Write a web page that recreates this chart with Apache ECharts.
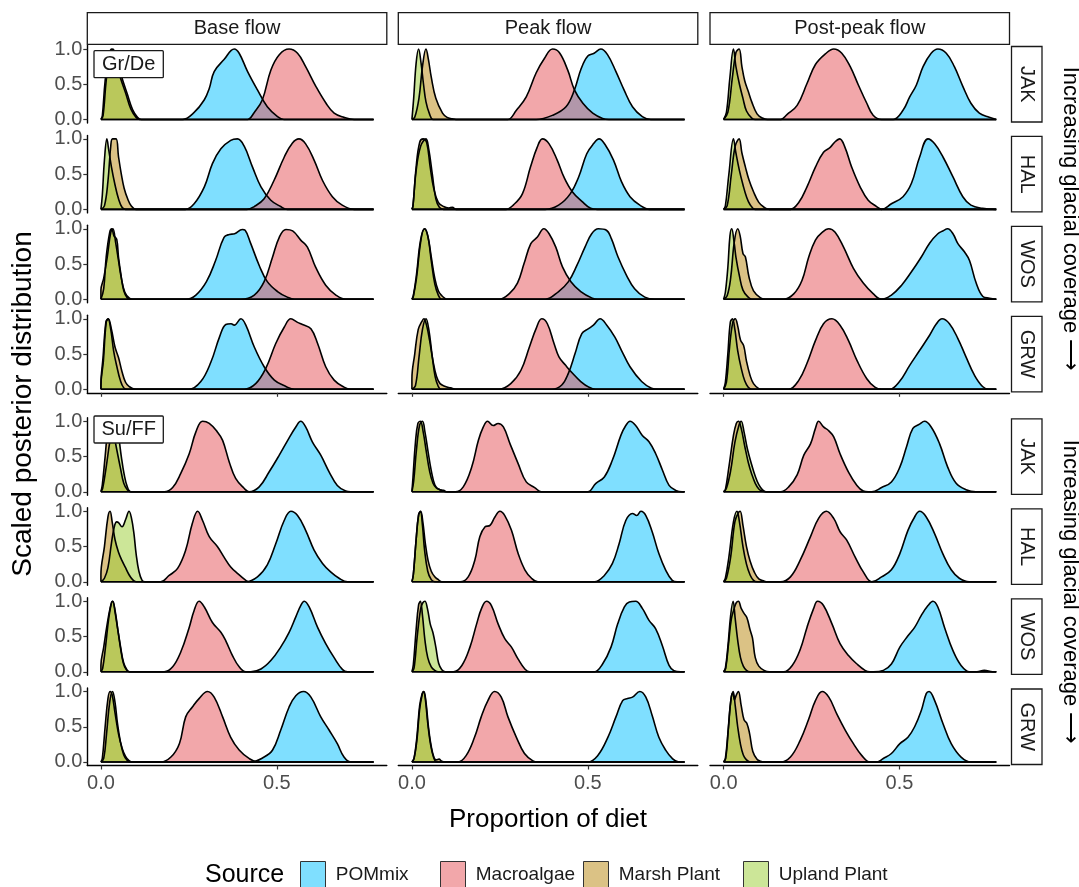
<!DOCTYPE html>
<html><head><meta charset="utf-8">
<script src="https://cdn.jsdelivr.net/npm/echarts@6/dist/echarts.min.js"></script>
<style>html,body{margin:0;padding:0;background:#fff}#c{width:1079px;height:887px}</style>
</head><body><div id="c"></div>
<script>
const flows = ['Base flow', 'Peak flow', 'Post-peak flow'];
const sites = ['JAK', 'HAL', 'WOS', 'GRW'];
const groups = ['Gr/De', 'Su/FF'];
const sources = ['POMmix', 'Macroalgae', 'Marsh Plant', 'Upland Plant'];
const xTickValues = [0, 0.5];
const yTickValues = [0, 0.5, 1.0];
const xDataEnd = 0.775;

// Each panel: [POMmix, Macroalgae, Marsh Plant, Upland Plant] as [proportion, scaled density] points
const gd_JAK_base = [
 [[0.232,0],[0.265,0.1],[0.294,0.28],[0.308,0.44],[0.322,0.68],[0.35,0.85],[0.379,1.0],[0.393,0.94],[0.417,0.68],[0.445,0.42],[0.473,0.18],[0.502,0.04],[0.52,0]],
 [[0.417,0],[0.436,0.1],[0.459,0.28],[0.483,0.7],[0.507,0.92],[0.535,1.0],[0.559,0.94],[0.582,0.75],[0.611,0.47],[0.64,0.23],[0.663,0.09],[0.691,0.03],[0.72,0]],
 [[0,0],[0.006,0.05],[0.015,0.55],[0.025,0.9],[0.034,1.0],[0.046,0.85],[0.058,0.62],[0.075,0.36],[0.09,0.14],[0.104,0.03],[0.115,0]],
 [[0,0],[0.004,0.05],[0.012,0.55],[0.022,0.9],[0.03,1.0],[0.042,0.85],[0.055,0.6],[0.07,0.38],[0.085,0.15],[0.1,0.03],[0.11,0]]
];
const gd_JAK_peak = [
 [[0.353,0],[0.4,0.06],[0.438,0.18],[0.462,0.42],[0.481,0.72],[0.5,0.9],[0.518,0.94],[0.537,1.0],[0.556,0.92],[0.58,0.68],[0.603,0.42],[0.627,0.18],[0.655,0.04],[0.679,0]],
 [[0.273,0],[0.297,0.13],[0.325,0.32],[0.353,0.66],[0.377,0.87],[0.4,1.0],[0.419,0.95],[0.443,0.7],[0.462,0.42],[0.486,0.23],[0.514,0.09],[0.542,0.015],[0.56,0]],
 [[0,0],[0.008,0.03],[0.02,0.3],[0.03,0.75],[0.04,1.0],[0.047,0.85],[0.055,0.6],[0.068,0.3],[0.087,0.09],[0.1,0.03],[0.115,0.01],[0.125,0]],
 [[0,0],[0.005,0.3],[0.012,0.8],[0.019,1.0],[0.026,0.8],[0.033,0.5],[0.04,0.25],[0.05,0.08],[0.06,0]]
];
const gd_JAK_post = [
 [[0.482,0],[0.51,0.13],[0.529,0.32],[0.548,0.49],[0.567,0.75],[0.59,0.94],[0.609,1.0],[0.633,0.94],[0.656,0.75],[0.68,0.47],[0.703,0.23],[0.727,0.09],[0.755,0.03],[0.775,0]],
 [[0.162,0],[0.18,0.07],[0.209,0.2],[0.237,0.51],[0.261,0.78],[0.289,0.93],[0.313,1.0],[0.336,0.94],[0.36,0.75],[0.383,0.49],[0.407,0.23],[0.425,0.06],[0.449,0]],
 [[0,0],[0.012,0.1],[0.025,0.6],[0.035,0.95],[0.044,1.0],[0.052,0.75],[0.06,0.55],[0.07,0.4],[0.08,0.25],[0.095,0.08],[0.11,0.02],[0.125,0]],
 [[0,0],[0.008,0.1],[0.018,0.6],[0.028,1.0],[0.035,0.75],[0.045,0.5],[0.055,0.3],[0.065,0.12],[0.08,0.02],[0.09,0]]
];
const gd_HAL_base = [
 [[0.24,0],[0.265,0.08],[0.294,0.32],[0.317,0.65],[0.341,0.86],[0.369,0.98],[0.388,1.0],[0.407,0.9],[0.431,0.6],[0.455,0.32],[0.483,0.13],[0.511,0.04],[0.53,0]],
 [[0.415,0],[0.436,0.04],[0.464,0.15],[0.492,0.41],[0.521,0.74],[0.544,0.94],[0.563,1.0],[0.582,0.93],[0.606,0.7],[0.63,0.41],[0.658,0.18],[0.686,0.06],[0.72,0]],
 [[0,0],[0.01,0.05],[0.02,0.4],[0.028,0.9],[0.033,1.0],[0.043,1.0],[0.05,0.75],[0.058,0.5],[0.066,0.3],[0.076,0.15],[0.086,0.05],[0.1,0]],
 [[0,0],[0.004,0.2],[0.01,0.7],[0.017,1.0],[0.022,0.85],[0.03,0.6],[0.04,0.35],[0.05,0.15],[0.06,0.03],[0.07,0]]
];
const gd_HAL_peak = [
 [[0.379,0],[0.417,0.06],[0.45,0.22],[0.474,0.46],[0.497,0.79],[0.516,0.93],[0.532,1.0],[0.549,0.92],[0.573,0.7],[0.596,0.39],[0.62,0.18],[0.648,0.06],[0.676,0]],
 [[0.267,0],[0.29,0.07],[0.314,0.22],[0.337,0.6],[0.356,0.88],[0.371,1.0],[0.39,0.93],[0.413,0.7],[0.432,0.46],[0.456,0.25],[0.484,0.11],[0.508,0.015],[0.527,0]],
 [[0,0],[0.003,0.05],[0.012,0.6],[0.022,0.95],[0.032,1.0],[0.042,0.95],[0.052,0.6],[0.062,0.3],[0.075,0.1],[0.09,0.04],[0.105,0.02],[0.115,0.03],[0.125,0]],
 [[0,0],[0.003,0.05],[0.012,0.55],[0.025,0.9],[0.04,1.0],[0.048,0.85],[0.058,0.5],[0.068,0.15],[0.078,0.03],[0.09,0]]
];
const gd_HAL_post = [
 [[0.449,0],[0.477,0.08],[0.51,0.18],[0.534,0.37],[0.557,0.74],[0.581,1.0],[0.6,0.93],[0.624,0.74],[0.652,0.46],[0.68,0.18],[0.703,0.06],[0.736,0.015],[0.775,0]],
 [[0.19,0],[0.214,0.1],[0.237,0.32],[0.261,0.6],[0.284,0.81],[0.303,0.88],[0.317,0.96],[0.33,1.0],[0.345,0.88],[0.364,0.6],[0.388,0.32],[0.411,0.13],[0.435,0.04],[0.449,0]],
 [[0,0],[0.01,0.05],[0.022,0.5],[0.033,0.9],[0.044,1.0],[0.052,0.8],[0.062,0.6],[0.072,0.42],[0.085,0.25],[0.1,0.1],[0.115,0.03],[0.13,0]],
 [[0,0],[0.005,0.05],[0.015,0.5],[0.028,1.0],[0.035,0.8],[0.045,0.55],[0.055,0.35],[0.065,0.18],[0.075,0.07],[0.09,0]]
];
const gd_WOS_base = [
 [[0.242,0],[0.27,0.06],[0.3,0.25],[0.326,0.55],[0.35,0.88],[0.365,0.92],[0.38,0.93],[0.402,0.99],[0.41,0.98],[0.426,0.79],[0.45,0.48],[0.473,0.25],[0.502,0.11],[0.53,0.03],[0.55,0]],
 [[0.398,0],[0.436,0.06],[0.464,0.25],[0.488,0.6],[0.507,0.88],[0.526,0.99],[0.545,0.97],[0.568,0.84],[0.587,0.74],[0.61,0.46],[0.639,0.2],[0.668,0.06],[0.696,0]],
 [[0,0],[0,0.13],[0.008,0.3],[0.018,0.6],[0.028,0.95],[0.034,1.0],[0.042,0.8],[0.05,0.55],[0.058,0.3],[0.068,0.1],[0.08,0.02],[0.09,0]],
 [[0,0],[0.008,0.15],[0.015,0.6],[0.025,0.95],[0.031,1.0],[0.037,0.9],[0.045,0.85],[0.05,0.6],[0.057,0.35],[0.065,0.12],[0.075,0.02],[0.085,0]]
];
const gd_WOS_peak = [
 [[0.379,0],[0.417,0.11],[0.445,0.25],[0.469,0.48],[0.492,0.74],[0.511,0.93],[0.53,1.0],[0.553,0.98],[0.567,0.86],[0.586,0.6],[0.61,0.34],[0.633,0.15],[0.662,0.03],[0.69,0]],
 [[0.248,0],[0.277,0.08],[0.3,0.23],[0.319,0.51],[0.338,0.79],[0.356,0.88],[0.375,1.0],[0.39,0.93],[0.409,0.74],[0.428,0.46],[0.452,0.25],[0.48,0.11],[0.513,0.015],[0.527,0]],
 [[0,0],[0.004,0.04],[0.013,0.3],[0.025,0.82],[0.035,1.0],[0.045,0.9],[0.055,0.6],[0.065,0.3],[0.075,0.12],[0.085,0.05],[0.095,0.01],[0.1,0]],
 [[0,0],[0.004,0.05],[0.013,0.35],[0.025,0.85],[0.037,1.0],[0.046,0.88],[0.055,0.55],[0.065,0.22],[0.075,0.06],[0.085,0]]
];
const gd_WOS_post = [
 [[0.449,0],[0.477,0.06],[0.506,0.2],[0.534,0.39],[0.562,0.6],[0.586,0.8],[0.609,0.93],[0.623,0.97],[0.637,1.0],[0.652,0.93],[0.666,0.79],[0.685,0.67],[0.699,0.55],[0.718,0.23],[0.737,0.04],[0.756,0.015],[0.775,0]],
 [[0.171,0],[0.2,0.08],[0.223,0.27],[0.242,0.6],[0.261,0.84],[0.28,0.95],[0.299,1.0],[0.317,0.95],[0.341,0.74],[0.369,0.44],[0.397,0.23],[0.425,0.08],[0.449,0]],
 [[0,0],[0.01,0.05],[0.02,0.3],[0.03,0.8],[0.04,1.0],[0.047,0.9],[0.055,0.65],[0.062,0.6],[0.072,0.32],[0.085,0.12],[0.105,0.02],[0.12,0]],
 [[0,0],[0.005,0.1],[0.012,0.45],[0.018,0.9],[0.023,1.0],[0.03,0.8],[0.035,0.6],[0.045,0.33],[0.055,0.13],[0.07,0.03],[0.08,0]]
];
const gd_GRW_base = [
 [[0.25,0],[0.284,0.11],[0.313,0.39],[0.337,0.74],[0.355,0.92],[0.37,0.93],[0.379,0.91],[0.398,1.0],[0.412,0.91],[0.436,0.6],[0.464,0.32],[0.493,0.13],[0.526,0.04],[0.55,0]],
 [[0.407,0],[0.44,0.08],[0.469,0.3],[0.497,0.65],[0.521,0.88],[0.54,1.0],[0.559,0.95],[0.573,0.92],[0.597,0.86],[0.616,0.65],[0.639,0.32],[0.663,0.13],[0.691,0.03],[0.71,0]],
 [[0,0],[0,0.05],[0.007,0.4],[0.015,0.95],[0.021,1.0],[0.03,0.85],[0.04,0.6],[0.05,0.45],[0.06,0.25],[0.07,0.1],[0.08,0.04],[0.09,0.01],[0.1,0]],
 [[0,0],[0,0.06],[0.006,0.45],[0.014,0.95],[0.02,1.0],[0.028,0.85],[0.036,0.55],[0.045,0.33],[0.055,0.13],[0.065,0.02],[0.075,0]]
];
const gd_GRW_peak = [
 [[0.398,0],[0.426,0.06],[0.445,0.23],[0.464,0.51],[0.483,0.79],[0.502,0.86],[0.516,0.91],[0.535,1.0],[0.554,0.91],[0.577,0.74],[0.596,0.55],[0.62,0.32],[0.653,0.11],[0.681,0.015],[0.7,0]],
 [[0.248,0],[0.281,0.08],[0.31,0.27],[0.334,0.6],[0.353,0.86],[0.369,1.0],[0.385,0.93],[0.404,0.65],[0.418,0.46],[0.437,0.34],[0.456,0.23],[0.48,0.11],[0.503,0.03],[0.522,0]],
 [[0,0],[0,0.15],[0.008,0.5],[0.018,0.85],[0.028,0.96],[0.034,1.0],[0.042,0.9],[0.05,0.7],[0.06,0.4],[0.07,0.18],[0.08,0.08],[0.095,0.04],[0.11,0.02],[0.125,0]],
 [[0,0],[0.01,0.05],[0.02,0.45],[0.03,0.85],[0.04,1.0],[0.048,0.85],[0.057,0.5],[0.066,0.18],[0.075,0.04],[0.082,0]]
];
const gd_GRW_post = [
 [[0.472,0],[0.5,0.11],[0.529,0.34],[0.557,0.55],[0.586,0.77],[0.605,0.93],[0.621,1.0],[0.642,0.93],[0.666,0.72],[0.689,0.46],[0.713,0.2],[0.736,0.04],[0.755,0]],
 [[0.185,0],[0.214,0.13],[0.237,0.37],[0.261,0.69],[0.284,0.93],[0.308,1.0],[0.331,0.91],[0.355,0.69],[0.379,0.41],[0.407,0.15],[0.43,0.03],[0.449,0]],
 [[0,0],[0.008,0.1],[0.017,0.6],[0.026,0.95],[0.033,1.0],[0.04,0.9],[0.048,0.7],[0.057,0.62],[0.065,0.4],[0.075,0.2],[0.085,0.08],[0.1,0.01],[0.11,0]],
 [[0,0],[0.005,0.1],[0.012,0.5],[0.019,0.95],[0.025,1.0],[0.032,0.85],[0.04,0.55],[0.05,0.3],[0.06,0.12],[0.07,0.03],[0.08,0]]
];
const sf_JAK_base = [
 [[0.421,0],[0.45,0.07],[0.478,0.28],[0.507,0.52],[0.531,0.73],[0.554,0.92],[0.568,1.0],[0.582,0.92],[0.601,0.71],[0.625,0.52],[0.649,0.28],[0.672,0.09],[0.696,0.01],[0.71,0]],
 [[0.18,0],[0.204,0.06],[0.227,0.26],[0.251,0.54],[0.27,0.85],[0.289,1.0],[0.308,0.97],[0.331,0.85],[0.346,0.73],[0.365,0.42],[0.383,0.19],[0.407,0.05],[0.421,0]],
 [[0,0],[0.004,0.1],[0.012,0.5],[0.02,0.9],[0.027,1.0],[0.035,0.85],[0.045,0.6],[0.055,0.35],[0.065,0.12],[0.075,0.03],[0.085,0]],
 [[0,0],[0.005,0.05],[0.015,0.35],[0.025,0.7],[0.035,0.95],[0.042,1.0],[0.05,0.8],[0.058,0.5],[0.066,0.25],[0.075,0.07],[0.085,0]]
];
const sf_JAK_peak = [
 [[0.5,0],[0.523,0.12],[0.547,0.21],[0.57,0.45],[0.594,0.8],[0.608,0.94],[0.62,1.0],[0.636,0.94],[0.655,0.8],[0.674,0.71],[0.693,0.54],[0.712,0.31],[0.731,0.09],[0.75,0.02],[0.768,0]],
 [[0.123,0],[0.146,0.07],[0.17,0.35],[0.189,0.73],[0.203,0.92],[0.215,1.0],[0.231,0.94],[0.245,0.97],[0.26,0.92],[0.279,0.68],[0.302,0.4],[0.325,0.14],[0.349,0.06],[0.368,0]],
 [[0,0],[0.003,0.2],[0.01,0.7],[0.017,0.97],[0.024,1.0],[0.032,0.85],[0.04,0.6],[0.05,0.3],[0.06,0.12],[0.07,0.05],[0.08,0.03],[0.09,0.02],[0.1,0]],
 [[0,0],[0.005,0.15],[0.013,0.6],[0.022,0.95],[0.03,1.0],[0.037,0.85],[0.045,0.6],[0.055,0.3],[0.065,0.1],[0.075,0.04],[0.09,0.01],[0.1,0]]
];
const sf_JAK_post = [
 [[0.421,0],[0.449,0.06],[0.477,0.14],[0.501,0.35],[0.52,0.64],[0.538,0.9],[0.557,0.96],[0.571,1.0],[0.59,0.92],[0.614,0.68],[0.637,0.35],[0.661,0.12],[0.689,0.03],[0.717,0]],
 [[0.162,0],[0.185,0.07],[0.209,0.24],[0.228,0.52],[0.247,0.68],[0.261,0.9],[0.27,1.0],[0.284,0.92],[0.298,0.87],[0.313,0.78],[0.331,0.54],[0.355,0.28],[0.379,0.09],[0.397,0.01],[0.411,0]],
 [[0,0],[0.005,0.03],[0.015,0.35],[0.028,0.8],[0.036,0.97],[0.042,1.0],[0.05,0.9],[0.06,0.65],[0.07,0.42],[0.08,0.25],[0.09,0.12],[0.1,0.04],[0.11,0.01],[0.12,0]],
 [[0,0],[0.008,0.05],[0.02,0.3],[0.032,0.7],[0.044,0.95],[0.05,1.0],[0.058,0.85],[0.068,0.6],[0.08,0.38],[0.09,0.22],[0.1,0.1],[0.11,0.03],[0.12,0]]
];
const sf_HAL_base = [
 [[0.412,0],[0.445,0.07],[0.473,0.24],[0.497,0.54],[0.521,0.87],[0.54,1.0],[0.559,0.94],[0.582,0.73],[0.606,0.45],[0.63,0.26],[0.653,0.14],[0.677,0.05],[0.701,0]],
 [[0.17,0],[0.194,0.09],[0.218,0.19],[0.241,0.45],[0.26,0.83],[0.275,1.0],[0.289,0.87],[0.308,0.64],[0.331,0.5],[0.35,0.35],[0.369,0.21],[0.388,0.12],[0.412,0.02],[0.421,0]],
 [[0,0],[0,0.1],[0.01,0.5],[0.02,0.92],[0.026,1.0],[0.032,0.85],[0.04,0.6],[0.05,0.42],[0.06,0.3],[0.07,0.2],[0.08,0.1],[0.09,0.03],[0.1,0]],
 [[0,0],[0.01,0.05],[0.02,0.2],[0.03,0.55],[0.038,0.78],[0.045,0.85],[0.05,0.84],[0.06,0.78],[0.07,0.88],[0.08,1.0],[0.087,0.9],[0.094,0.68],[0.1,0.4],[0.108,0.15],[0.117,0.02],[0.125,0]]
];
const sf_HAL_peak = [
 [[0.519,0],[0.547,0.09],[0.57,0.26],[0.589,0.54],[0.608,0.87],[0.627,0.97],[0.639,0.94],[0.651,1.0],[0.665,0.94],[0.683,0.71],[0.702,0.4],[0.721,0.17],[0.74,0.02],[0.754,0]],
 [[0.137,0],[0.16,0.07],[0.179,0.31],[0.193,0.64],[0.208,0.78],[0.222,0.8],[0.236,0.92],[0.25,1.0],[0.264,0.94],[0.283,0.73],[0.302,0.4],[0.321,0.17],[0.34,0.05],[0.358,0]],
 [[0,0],[0.004,0.1],[0.012,0.6],[0.019,0.95],[0.025,1.0],[0.031,0.85],[0.038,0.55],[0.046,0.3],[0.055,0.15],[0.065,0.07],[0.075,0.03],[0.085,0]],
 [[0,0],[0.004,0.1],[0.012,0.6],[0.019,0.95],[0.024,1.0],[0.03,0.8],[0.036,0.45],[0.045,0.15],[0.055,0.03],[0.065,0]]
];
const sf_HAL_post = [
 [[0.421,0],[0.449,0.07],[0.477,0.17],[0.501,0.4],[0.524,0.73],[0.543,0.92],[0.557,1.0],[0.576,0.92],[0.6,0.68],[0.623,0.4],[0.647,0.17],[0.67,0.05],[0.698,0]],
 [[0.162,0],[0.19,0.07],[0.218,0.31],[0.247,0.64],[0.27,0.9],[0.292,1.0],[0.313,0.9],[0.331,0.71],[0.35,0.59],[0.374,0.35],[0.397,0.14],[0.421,0]],
 [[0,0],[0.008,0.05],[0.02,0.35],[0.032,0.85],[0.042,0.98],[0.047,1.0],[0.055,0.8],[0.065,0.5],[0.075,0.3],[0.088,0.13],[0.1,0.04],[0.115,0.01],[0.125,0]],
 [[0,0],[0.005,0.05],[0.015,0.35],[0.028,0.85],[0.038,1.0],[0.045,0.85],[0.055,0.5],[0.065,0.25],[0.075,0.1],[0.085,0.02],[0.095,0]]
];
const sf_WOS_base = [
 [[0.426,0],[0.455,0.04],[0.483,0.16],[0.511,0.35],[0.535,0.56],[0.554,0.78],[0.568,0.94],[0.578,1.0],[0.592,0.92],[0.616,0.63],[0.639,0.4],[0.663,0.2],[0.687,0.03],[0.701,0]],
 [[0.18,0],[0.204,0.07],[0.227,0.28],[0.251,0.63],[0.265,0.87],[0.279,1.0],[0.294,0.92],[0.317,0.7],[0.341,0.56],[0.355,0.44],[0.374,0.23],[0.393,0.07],[0.412,0]],
 [[0,0],[0,0.09],[0.008,0.35],[0.017,0.65],[0.026,0.9],[0.033,1.0],[0.04,0.88],[0.048,0.6],[0.056,0.33],[0.064,0.12],[0.072,0.03],[0.08,0]],
 [[0,0],[0.005,0.05],[0.013,0.35],[0.022,0.75],[0.03,0.98],[0.034,1.0],[0.04,0.85],[0.048,0.6],[0.056,0.35],[0.065,0.12],[0.075,0.02],[0.082,0]]
];
const sf_WOS_peak = [
 [[0.519,0],[0.542,0.11],[0.566,0.35],[0.585,0.68],[0.604,0.92],[0.618,0.99],[0.636,1.0],[0.655,0.9],[0.674,0.73],[0.693,0.61],[0.712,0.37],[0.731,0.09],[0.745,0.015],[0.764,0]],
 [[0.118,0],[0.142,0.09],[0.165,0.35],[0.184,0.68],[0.198,0.9],[0.212,1.0],[0.226,0.94],[0.245,0.68],[0.264,0.47],[0.283,0.35],[0.302,0.18],[0.321,0.04],[0.335,0]],
 [[0,0],[0.004,0.1],[0.012,0.6],[0.019,0.95],[0.024,1.0],[0.03,0.8],[0.037,0.45],[0.045,0.2],[0.055,0.07],[0.065,0.02],[0.075,0]],
 [[0,0],[0.006,0.05],[0.015,0.5],[0.025,0.9],[0.031,0.98],[0.037,1.0],[0.044,0.9],[0.052,0.68],[0.06,0.55],[0.068,0.35],[0.076,0.12],[0.085,0.03],[0.095,0]]
];
const sf_WOS_post = [
 [[0.426,0],[0.454,0.02],[0.477,0.11],[0.501,0.35],[0.524,0.51],[0.543,0.63],[0.562,0.8],[0.581,0.94],[0.595,1.0],[0.609,0.92],[0.628,0.63],[0.652,0.3],[0.675,0.09],[0.699,0],[0.72,0],[0.741,0.02],[0.765,0]],
 [[0.171,0],[0.195,0.09],[0.218,0.32],[0.237,0.63],[0.256,0.9],[0.267,1.0],[0.284,0.94],[0.308,0.68],[0.331,0.4],[0.355,0.23],[0.379,0.11],[0.402,0.02],[0.416,0]],
 [[0,0],[0.006,0.05],[0.014,0.4],[0.022,0.75],[0.03,0.9],[0.036,0.98],[0.042,1.0],[0.05,0.9],[0.058,0.83],[0.066,0.77],[0.075,0.6],[0.082,0.48],[0.09,0.2],[0.1,0.08],[0.115,0.02],[0.13,0]],
 [[0,0],[0.005,0.05],[0.012,0.35],[0.02,0.8],[0.027,1.0],[0.033,0.75],[0.04,0.45],[0.048,0.2],[0.056,0.08],[0.065,0.02],[0.075,0]]
];
const sf_GRW_base = [
 [[0.426,0],[0.464,0.07],[0.488,0.17],[0.511,0.45],[0.535,0.78],[0.554,0.94],[0.576,1.0],[0.597,0.92],[0.625,0.64],[0.649,0.45],[0.672,0.26],[0.691,0.07],[0.71,0]],
 [[0.17,0],[0.199,0.07],[0.223,0.26],[0.241,0.64],[0.26,0.78],[0.279,0.9],[0.303,1.0],[0.322,0.92],[0.346,0.64],[0.369,0.35],[0.393,0.17],[0.421,0.05],[0.445,0]],
 [[0,0],[0.004,0.05],[0.012,0.5],[0.02,0.9],[0.026,1.0],[0.032,0.95],[0.04,0.7],[0.05,0.4],[0.06,0.2],[0.07,0.08],[0.08,0.02],[0.09,0]],
 [[0,0],[0.008,0.05],[0.016,0.4],[0.025,0.85],[0.033,1.0],[0.04,0.85],[0.047,0.55],[0.055,0.3],[0.065,0.1],[0.075,0.02],[0.082,0]]
];
const sf_GRW_peak = [
 [[0.5,0],[0.528,0.09],[0.557,0.35],[0.58,0.64],[0.599,0.87],[0.613,0.9],[0.627,0.92],[0.648,1.0],[0.665,0.92],[0.683,0.66],[0.702,0.35],[0.721,0.17],[0.74,0.05],[0.759,0]],
 [[0.131,0],[0.154,0.09],[0.178,0.35],[0.197,0.64],[0.216,0.87],[0.235,1.0],[0.254,0.92],[0.273,0.64],[0.297,0.35],[0.32,0.12],[0.344,0.015],[0.358,0]],
 [[0,0],[0.006,0.05],[0.014,0.35],[0.022,0.8],[0.029,0.97],[0.034,1.0],[0.04,0.85],[0.047,0.5],[0.055,0.22],[0.063,0.06],[0.07,0.03],[0.077,0.04],[0.085,0.01],[0.095,0]],
 [[0,0],[0.006,0.05],[0.014,0.3],[0.022,0.75],[0.029,0.95],[0.033,1.0],[0.038,0.9],[0.045,0.55],[0.053,0.25],[0.062,0.06],[0.07,0]]
];
const sf_GRW_post = [
 [[0.435,0],[0.454,0.05],[0.477,0.12],[0.501,0.26],[0.524,0.35],[0.543,0.5],[0.562,0.73],[0.576,0.97],[0.584,1.0],[0.6,0.87],[0.624,0.54],[0.647,0.26],[0.675,0.07],[0.703,0]],
 [[0.162,0],[0.19,0.07],[0.218,0.31],[0.242,0.61],[0.261,0.87],[0.28,1.0],[0.299,0.92],[0.322,0.68],[0.346,0.45],[0.369,0.26],[0.393,0.09],[0.416,0]],
 [[0,0],[0.006,0.05],[0.014,0.5],[0.021,0.9],[0.026,0.98],[0.031,0.88],[0.036,0.95],[0.042,1.0],[0.05,0.8],[0.058,0.6],[0.066,0.55],[0.074,0.4],[0.083,0.15],[0.095,0.04],[0.105,0.01],[0.115,0]],
 [[0,0],[0.005,0.05],[0.012,0.4],[0.02,0.85],[0.027,1.0],[0.033,0.8],[0.04,0.5],[0.048,0.25],[0.056,0.1],[0.065,0.03],[0.075,0]]
];

const panels = [
  [gd_JAK_base, gd_JAK_peak, gd_JAK_post],
  [gd_HAL_base, gd_HAL_peak, gd_HAL_post],
  [gd_WOS_base, gd_WOS_peak, gd_WOS_post],
  [gd_GRW_base, gd_GRW_peak, gd_GRW_post],
  [sf_JAK_base, sf_JAK_peak, sf_JAK_post],
  [sf_HAL_base, sf_HAL_peak, sf_HAL_post],
  [sf_WOS_base, sf_WOS_peak, sf_WOS_post],
  [sf_GRW_base, sf_GRW_peak, sf_GRW_post]
];

// ---------- layout & style ----------
const FONT = '"Liberation Sans", Arial, Helvetica, sans-serif';
const fills = ['rgba(0,191,255,0.5)', 'rgba(229,80,85,0.5)', 'rgba(184,134,11,0.5)', 'rgba(154,205,50,0.5)'];
const colLeft = [87.3, 398.3, 710];
const colW = 299.5;
const rowTop = [45.5, 135.4, 225.3, 315.3, 417.8, 507.8, 597.8, 688];
const rowH = 77.5;
const xMin = -0.0387, xMax = 0.8127;

function prep(pts) {
  const out = [];
  const f = pts[0], l = pts[pts.length - 1];
  if (f[0] > 0.02) { out.push([0, 0]); out.push([f[0] - 0.015, 0]); }
  else if (f[0] > 0) out.push([0, 0]);
  pts.forEach(p => out.push(p));
  if (l[0] < xDataEnd - 0.02) { out.push([l[0] + 0.015, 0]); out.push([xDataEnd, 0]); }
  else if (l[0] < xDataEnd) out.push([xDataEnd, 0]);
  return out;
}

const grid = [], xAxis = [], yAxis = [], series = [];
for (let r = 0; r < 8; r++) {
  for (let c = 0; c < 3; c++) {
    const idx = r * 3 + c;
    grid.push({ left: colLeft[c], top: rowTop[r], width: colW, height: rowH });
    const bottomRow = (r === 3 || r === 7);
    xAxis.push({
      gridIndex: idx, type: 'value', min: xMin, max: xMax,
      axisLine: { show: bottomRow, onZero: false, lineStyle: { color: '#000', width: 1.4 } },
      axisTick: { show: bottomRow, customValues: xTickValues, length: 4, lineStyle: { color: '#333', width: 1.2 } },
      axisLabel: { show: r === 7, customValues: xTickValues, formatter: v => v.toFixed(1), color: '#4d4d4d', fontSize: 20, fontFamily: FONT, margin: 8 },
      splitLine: { show: false }
    });
    yAxis.push({
      gridIndex: idx, type: 'value', min: -0.05, max: 1.05,
      axisLine: { show: c === 0, onZero: false, lineStyle: { color: '#000', width: 1.4 } },
      axisTick: { show: c === 0, customValues: yTickValues, length: 4, lineStyle: { color: '#333', width: 1.2 } },
      axisLabel: { show: c === 0, customValues: yTickValues, formatter: v => v.toFixed(1), color: '#4d4d4d', fontSize: 20, fontFamily: FONT, margin: 5 },
      splitLine: { show: false }
    });
    const p = panels[r][c];
    for (let i = 0; i < 4; i++) {
      series.push({
        type: 'line', name: sources[i], xAxisIndex: idx, yAxisIndex: idx,
        data: prep(p[i]), smooth: 0.4, symbol: 'none', silent: true,
        color: fills[i],
        lineStyle: { color: '#000', width: 1.6 },
        areaStyle: { color: fills[i], opacity: 1 },
        emphasis: { disabled: true }
      });
    }
  }
}

const graphic = [];
// top strips
for (let c = 0; c < 3; c++) {
  graphic.push({ type: 'rect', z: 100, shape: { x: colLeft[c], y: 12.7, width: colW, height: 31.6 }, style: { fill: '#fff', stroke: '#1a1a1a', lineWidth: 1.3 } });
  graphic.push({ type: 'text', z: 101, x: colLeft[c] + colW / 2, y: 28.5, style: { text: flows[c], align: 'center', verticalAlign: 'middle', font: '20px ' + FONT, fill: '#1a1a1a' } });
}
// right strips
for (let r = 0; r < 8; r++) {
  graphic.push({ type: 'rect', z: 100, shape: { x: 1011.5, y: rowTop[r] + 1, width: 30.5, height: rowH - 2 }, style: { fill: '#fff', stroke: '#1a1a1a', lineWidth: 1.3 } });
  graphic.push({ type: 'text', z: 101, x: 1026.8, y: rowTop[r] + rowH / 2, rotation: -Math.PI / 2, style: { text: sites[r % 4], align: 'center', verticalAlign: 'middle', font: '20px ' + FONT, fill: '#1a1a1a' } });
}
// group labels
[[50.7, 0], [416, 1]].forEach(([y, g]) => {
  graphic.push({ type: 'rect', z: 100, shape: { x: 94, y: y, width: 69.3, height: 27, r: 1 }, style: { fill: '#fff', stroke: '#1a1a1a', lineWidth: 1.3 } });
  graphic.push({ type: 'text', z: 101, x: 128.7, y: y + 13.8, style: { text: groups[g], align: 'center', verticalAlign: 'middle', font: '20px ' + FONT, fill: '#1a1a1a' } });
});
// axis titles
graphic.push({ type: 'text', z: 101, x: 23, y: 404, rotation: Math.PI / 2, style: { text: 'Scaled posterior distribution', align: 'center', verticalAlign: 'middle', font: '28px ' + FONT, fill: '#000' } });
graphic.push({ type: 'text', z: 101, x: 548, y: 820, style: { text: 'Proportion of diet', align: 'center', verticalAlign: 'middle', font: '26px ' + FONT, fill: '#000' } });
// right-side annotations
[219, 592].forEach(y => {
  graphic.push({ type: 'text', z: 101, x: 1070, y: y, rotation: -Math.PI / 2, style: { text: 'Increasing glacial coverage \u27F6', align: 'center', verticalAlign: 'middle', font: '22px ' + FONT, fill: '#000' } });
});
// legend title
graphic.push({ type: 'text', z: 101, x: 205, y: 875, style: { text: 'Source', align: 'left', verticalAlign: 'middle', font: '25px ' + FONT, fill: '#000' } });

const legendLeft = [300, 440, 583, 743];
const legend = sources.map((s, i) => ({
  left: legendLeft[i], top: 861, padding: 0, itemWidth: 25, itemHeight: 26, selectedMode: false,
  formatter: n => ' ' + n,
  textStyle: { fontSize: 19, color: '#1a1a1a', fontFamily: FONT },
  data: [{ name: s, icon: 'rect', itemStyle: { color: fills[i], borderColor: '#333', borderWidth: 1 } }]
}));

const chart = echarts.init(document.getElementById('c'), null, { renderer: 'canvas', width: 1079, height: 887 });
chart.setOption({
  backgroundColor: '#fff',
  animation: false,
  grid, xAxis, yAxis, series, legend, graphic
});
</script>
</body></html>
